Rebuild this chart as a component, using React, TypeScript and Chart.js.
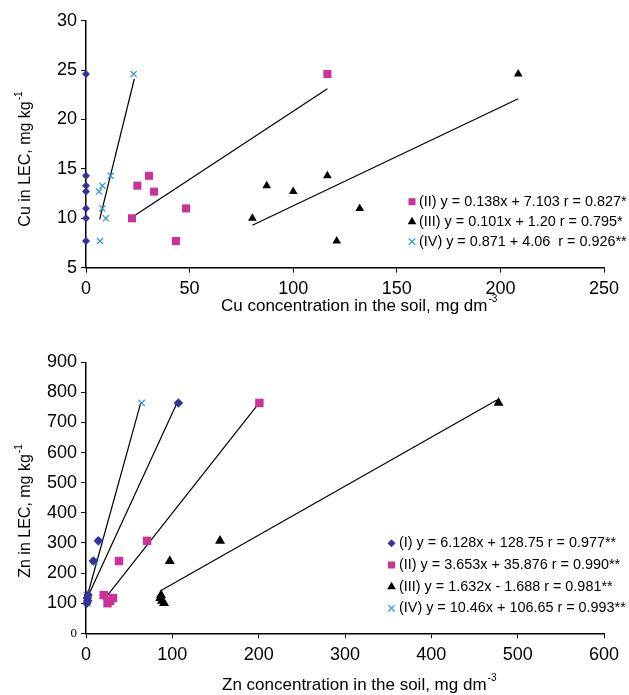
import React, { useEffect, useRef } from 'react';
import { Chart, registerables } from 'chart.js';

Chart.register(...registerables);

const FONT = "'Liberation Sans', Arial, Helvetica, sans-serif";
const SERIF = "'Liberation Serif', 'Times New Roman', serif";

// ---------- Cu chart data ----------
const cuLec = [24.6, 14.3, 13.3, 12.7, 11.0, 10.0, 7.7];
const cuSoilI = [0, 0, 0, 0, 0, 0, 0];
const cuSoilII = [116.5, 30.4, 24.8, 32.8, 48.3, 22.2, 43.4];
const cuSoilIII = [208.6, 116.5, 87.2, 100, 132.1, 80.3, 121];
const cuSoilIV = [23, 11.9, 7.9, 6.3, 7.9, 9.6, 6.8];
const cuTrendIIX = [22.2, 116.5];
const cuTrendIIY = [10.1, 23.1];
const cuTrendIIIX = [80.3, 208.6];
const cuTrendIIIY = [9.3, 22.1];
const cuTrendIVX = [6.6, 23.3];
const cuTrendIVY = [9.9, 24.1];
const cuXTicks = { min: 0, max: 250, step: 50 };
const cuYTicks = { min: 5, max: 30, step: 5 };
const cuLegendLabels = [
  '(II) y = 0.138x + 7.103 r = 0.827*',
  '(III) y = 0.101x + 1.20 r = 0.795*',
  '(IV) y = 0.871 + 4.06  r = 0.926**',
];
const cuXTitle = 'Cu concentration in the soil, mg dm';
const cuYTitle = 'Cu in LEC, mg kg';

// ---------- Zn chart data ----------
const znLec = [765, 307, 240, 127, 117, 108, 100];
const znSoilI = [107, 14.3, 8.5, 2.5, 1.5, 2, 1];
const znSoilII = [200.8, 70.7, 38.2, 20.5, 31.3, 28, 25];
const znSoilIII = [477.8, 155.3, 97, 86.9, 86, 88, 90.4];
const znSoilIV = [64.5, 16.2, 9.6, 1, 2, 0.5, 1.5];
const znTrendIX = [1.5, 105];
const znTrendIY = [118, 762];
const znTrendIIX = [20.5, 199.7];
const znTrendIIY = [110, 762];
const znTrendIIIX = [86.9, 476];
const znTrendIIIY = [142, 775];
const znTrendIVX = [0, 63.4];
const znTrendIVY = [108, 765];
const znXTicks = { min: 0, max: 600, step: 100 };
const znYTicks = { min: 0, max: 900, step: 100 };
const znLegendLabels = [
  '(I) y = 6.128x + 128.75 r = 0.977**',
  '(II) y = 3.653x + 35.876 r = 0.990**',
  '(III) y = 1.632x - 1.688 r = 0.981**',
  '(IV) y = 10.46x + 106.65 r = 0.993**',
];
const znXTitle = 'Zn concentration in the soil, mg dm';
const znYTitle = 'Zn in LEC, mg kg';

const BLUE = '#333399';
const MAG = '#CC3399';
const BLK = '#000000';
const CYAN = '#3399CC';

type Marker = 'diamond' | 'square' | 'triangle' | 'cross';

function pts(xs: number[], ys: number[]) {
  return xs.map((x, i) => ({ x, y: ys[i] }));
}

function pointSet(xs: number[], ys: number[], style: string, color: string, r: number, bw = 0) {
  return {
    type: 'scatter',
    data: pts(xs, ys),
    pointStyle: style,
    pointRadius: r,
    pointHoverRadius: r,
    backgroundColor: color,
    borderColor: color,
    borderWidth: bw,
    pointBorderWidth: bw,
    showLine: false,
    clip: false,
  };
}

function trendSet(xs: number[], ys: number[]) {
  return {
    type: 'scatter',
    data: pts(xs, ys),
    showLine: true,
    borderColor: '#000',
    borderWidth: 1.2,
    pointRadius: 0,
    pointHoverRadius: 0,
    fill: false,
    clip: false,
  };
}

function drawMarker(ctx: CanvasRenderingContext2D, m: Marker, x: number, y: number, color: string) {
  ctx.save();
  ctx.fillStyle = color;
  ctx.strokeStyle = color;
  ctx.beginPath();
  if (m === 'diamond') {
    const r = 4;
    ctx.moveTo(x, y - r);
    ctx.lineTo(x + r, y);
    ctx.lineTo(x, y + r);
    ctx.lineTo(x - r, y);
    ctx.closePath();
    ctx.fill();
  } else if (m === 'square') {
    const s = 7;
    ctx.fillRect(x - s / 2, y - s / 2, s, s);
  } else if (m === 'triangle') {
    const r = 5;
    ctx.moveTo(x, y - r);
    ctx.lineTo(x + r * 0.866, y + r * 0.5);
    ctx.lineTo(x - r * 0.866, y + r * 0.5);
    ctx.closePath();
    ctx.fill();
  } else {
    const r = 3.2;
    ctx.lineWidth = 1.3;
    ctx.moveTo(x - r, y - r);
    ctx.lineTo(x + r, y + r);
    ctx.moveTo(x + r, y - r);
    ctx.lineTo(x - r, y + r);
    ctx.stroke();
  }
  ctx.restore();
}

function drawSup(
  ctx: CanvasRenderingContext2D,
  main: string,
  sup: string,
  x: number,
  y: number,
  size: number,
  rotated: boolean
) {
  ctx.save();
  ctx.fillStyle = '#000';
  ctx.textBaseline = 'middle';
  ctx.textAlign = 'left';
  ctx.font = `${size}px ${FONT}`;
  const w1 = ctx.measureText(main).width;
  const supSize = Math.round(size * 0.6);
  ctx.font = `${supSize}px ${FONT}`;
  const w2 = ctx.measureText(sup).width;
  const total = w1 + w2 + 1;
  let sx = x;
  if (rotated) {
    ctx.translate(x, y);
    ctx.rotate(-Math.PI / 2);
    sx = -total / 2;
    y = 0;
  }
  ctx.font = `${size}px ${FONT}`;
  ctx.fillText(main, sx, y);
  ctx.font = `${supSize}px ${FONT}`;
  ctx.fillText(sup, sx + w1 + 1, y - size * 0.42);
  ctx.restore();
}

interface OverlayCfg {
  xTitle: string;
  xSup: string;
  xTitlePos: [number, number];
  yTitle: string;
  ySup: string;
  yTitlePos: [number, number];
  legendLabels: string[];
  legendMarkers: Marker[];
  legendColors: string[];
  legendMarkerX: number;
  legendTextX: number;
  legendYs: number[];
}

function overlay(cfg: OverlayCfg) {
  return {
    id: 'overlay',
    afterDraw(chart: any) {
      const ctx: CanvasRenderingContext2D = chart.ctx;
      drawSup(ctx, cfg.xTitle, cfg.xSup, cfg.xTitlePos[0], cfg.xTitlePos[1], 17, false);
      drawSup(ctx, cfg.yTitle, cfg.ySup, cfg.yTitlePos[0], cfg.yTitlePos[1], 16, true);
      ctx.save();
      ctx.font = `14.4px ${FONT}`;
      ctx.fillStyle = '#000';
      ctx.textBaseline = 'middle';
      ctx.textAlign = 'left';
      cfg.legendLabels.forEach((lab, i) => {
        const y = cfg.legendYs[i];
        drawMarker(ctx, cfg.legendMarkers[i], cfg.legendMarkerX, y, cfg.legendColors[i]);
        ctx.fillStyle = '#000';
        ctx.fillText(lab, cfg.legendTextX, y);
      });
      ctx.restore();
    },
  };
}

function axis(t: { min: number; max: number; step: number }, horizontal: boolean, fit: number, serifZero = false) {
  return {
    type: 'linear',
    min: t.min,
    max: t.max,
    ticks: {
      stepSize: t.step,
      color: '#000',
      padding: horizontal ? 6 : 4,
      maxRotation: 0,
      autoSkip: false,
      font: (c: any) =>
        serifZero && c.tick && c.tick.value === 0
          ? { family: SERIF, size: 13 }
          : { family: FONT, size: 18 },
    },
    grid: {
      display: true,
      drawOnChartArea: false,
      drawTicks: true,
      tickLength: 5,
      color: '#000',
      lineWidth: 1,
    },
    border: { display: true, color: '#000', width: 1.5 },
    afterFit: (s: any) => {
      if (horizontal) s.height = fit;
      else s.width = fit;
    },
  };
}

function makeConfig(datasets: any[], xT: any, yT: any, padTop: number, xFit: number, plugin: any, serifZero: boolean) {
  return {
    type: 'scatter',
    data: { datasets },
    options: {
      animation: false,
      responsive: false,
      maintainAspectRatio: false,
      layout: { padding: { top: padTop, right: 25, left: 0, bottom: 0 } },
      plugins: { legend: { display: false }, tooltip: { enabled: false } },
      scales: {
        x: axis(xT, true, xFit),
        y: axis(yT, false, 86, serifZero),
      },
    },
    plugins: [plugin],
  };
}

export default function App() {
  const topRef = useRef<HTMLCanvasElement>(null);
  const botRef = useRef<HTMLCanvasElement>(null);

  useEffect(() => {
    Chart.defaults.color = '#000';
    const cuSets = [
      pointSet(cuSoilI, cuLec, 'rectRot', BLUE, 4),
      pointSet(cuSoilII, cuLec, 'rect', MAG, 5.7),
      pointSet(cuSoilIII, cuLec, 'triangle', BLK, 5),
      pointSet(cuSoilIV, cuLec, 'crossRot', CYAN, 4.3, 1.3),
      trendSet(cuTrendIIX, cuTrendIIY),
      trendSet(cuTrendIIIX, cuTrendIIIY),
      trendSet(cuTrendIVX, cuTrendIVY),
    ];
    const znSets = [
      pointSet(znSoilI, znLec, 'rectRot', BLUE, 4.8),
      pointSet(znSoilII, znLec, 'rect', MAG, 6),
      pointSet(znSoilIII, znLec, 'triangle', BLK, 5.8),
      pointSet(znSoilIV, znLec, 'crossRot', CYAN, 4.5, 1.3),
      trendSet(znTrendIX, znTrendIY),
      trendSet(znTrendIIX, znTrendIIY),
      trendSet(znTrendIIIX, znTrendIIIY),
      trendSet(znTrendIVX, znTrendIVY),
    ];
    const topPlugin = overlay({
      xTitle: cuXTitle,
      xSup: '-3',
      xTitlePos: [221, 306],
      yTitle: cuYTitle,
      ySup: '-1',
      yTitlePos: [26, 159],
      legendLabels: cuLegendLabels,
      legendMarkers: ['square', 'triangle', 'cross'],
      legendColors: [MAG, BLK, CYAN],
      legendMarkerX: 412,
      legendTextX: 419,
      legendYs: [201.7, 221.7, 241.7],
    });
    const botPlugin = overlay({
      xTitle: znXTitle,
      xSup: '-3',
      xTitlePos: [222, 355],
      yTitle: znYTitle,
      ySup: '-1',
      yTitlePos: [26, 181],
      legendLabels: znLegendLabels,
      legendMarkers: ['diamond', 'square', 'triangle', 'cross'],
      legendColors: [BLUE, MAG, BLK, CYAN],
      legendMarkerX: 391.5,
      legendTextX: 399,
      legendYs: [213.3, 235, 256.7, 278.3],
    });
    const c1 = new Chart(topRef.current as HTMLCanvasElement, makeConfig(cuSets, cuXTicks, cuYTicks, 20.7, 330 - 267.7, topPlugin, false) as any);
    const c2 = new Chart(botRef.current as HTMLCanvasElement, makeConfig(znSets, znXTicks, znYTicks, 32.3, 365 - 303.3, botPlugin, true) as any);
    return () => {
      c1.destroy();
      c2.destroy();
    };
  }, []);

  return (
    <div style={{ position: 'absolute', left: 0, top: 0, width: 629, height: 695, background: '#fff' }}>
      <canvas ref={topRef} width={629} height={330} style={{ position: 'absolute', left: 0, top: 0, display: 'block' }} />
      <canvas ref={botRef} width={629} height={365} style={{ position: 'absolute', left: 0, top: 330, display: 'block' }} />
    </div>
  );
}
